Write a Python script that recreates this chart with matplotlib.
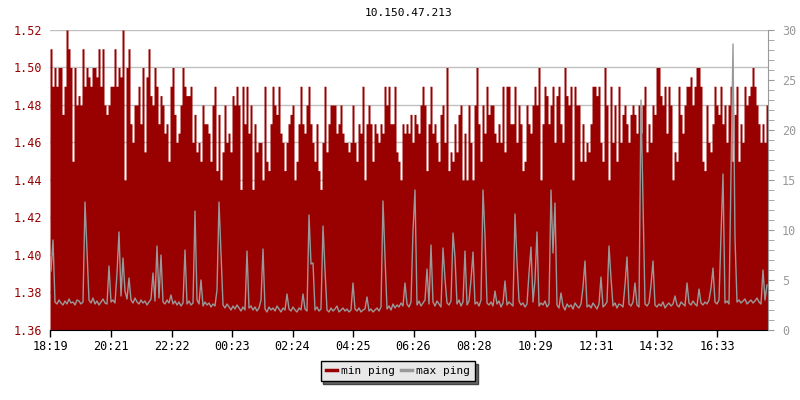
import numpy as np
import matplotlib
matplotlib.use("Agg")
import matplotlib.pyplot as plt
from matplotlib.lines import Line2D

plt.rcParams['font.family'] = ['DejaVu Sans Mono']
plt.rcParams['font.size'] = 8

title = "10.150.47.213"
tick_labels = ["18:19", "20:21", "22:22", "00:23", "02:24", "04:25",
               "06:26", "08:28", "10:29", "12:31", "14:32", "16:33"]
step_minutes = 4
span_minutes = 1436

# min ping (left axis), one sample every 4 minutes from 18:19
min_ping = [
    1.51, 1.49, 1.50, 1.49, 1.50, 1.50, 1.475, 1.49, 1.52, 1.51, 1.50, 1.45, 1.50, 1.48, 1.485, 1.48, 1.51, 1.49, 1.50, 1.495,
    1.49, 1.50, 1.50, 1.495, 1.51, 1.49, 1.51, 1.48, 1.475, 1.48, 1.49, 1.49, 1.51, 1.49, 1.50, 1.495, 1.52, 1.44, 1.50, 1.51,
    1.47, 1.46, 1.48, 1.48, 1.49, 1.47, 1.50, 1.455, 1.495, 1.51, 1.485, 1.48, 1.50, 1.49, 1.47, 1.485, 1.48, 1.465, 1.47, 1.45,
    1.49, 1.50, 1.475, 1.46, 1.465, 1.48, 1.50, 1.49, 1.485, 1.485, 1.49, 1.46, 1.475, 1.455, 1.46, 1.45, 1.48, 1.47, 1.47, 1.465,
    1.45, 1.48, 1.49, 1.445, 1.475, 1.44, 1.455, 1.48, 1.46, 1.465, 1.455, 1.485, 1.48, 1.49, 1.48, 1.435, 1.49, 1.47, 1.49, 1.465,
    1.48, 1.435, 1.47, 1.455, 1.46, 1.46, 1.44, 1.49, 1.45, 1.445, 1.47, 1.49, 1.48, 1.475, 1.49, 1.465, 1.46, 1.445, 1.46, 1.47,
    1.475, 1.48, 1.44, 1.45, 1.47, 1.49, 1.47, 1.465, 1.48, 1.49, 1.47, 1.46, 1.45, 1.47, 1.445, 1.435, 1.46, 1.49, 1.455, 1.47,
    1.48, 1.48, 1.48, 1.465, 1.47, 1.48, 1.465, 1.46, 1.46, 1.455, 1.46, 1.48, 1.46, 1.45, 1.47, 1.465, 1.49, 1.44, 1.47, 1.48,
    1.47, 1.45, 1.47, 1.465, 1.46, 1.47, 1.465, 1.49, 1.48, 1.49, 1.47, 1.47, 1.49, 1.455, 1.45, 1.44, 1.47, 1.465, 1.47, 1.465,
    1.475, 1.46, 1.475, 1.47, 1.465, 1.48, 1.49, 1.48, 1.445, 1.47, 1.49, 1.465, 1.47, 1.46, 1.45, 1.475, 1.48, 1.46, 1.50, 1.445,
    1.455, 1.45, 1.47, 1.455, 1.475, 1.48, 1.44, 1.465, 1.44, 1.48, 1.46, 1.44, 1.48, 1.50, 1.47, 1.45, 1.48, 1.465, 1.49, 1.475,
    1.48, 1.48, 1.465, 1.46, 1.47, 1.46, 1.49, 1.455, 1.49, 1.49, 1.47, 1.47, 1.49, 1.46, 1.48, 1.47, 1.445, 1.45, 1.48, 1.47,
    1.465, 1.48, 1.49, 1.48, 1.50, 1.44, 1.47, 1.49, 1.485, 1.47, 1.48, 1.49, 1.46, 1.485, 1.49, 1.47, 1.46, 1.50, 1.485, 1.48,
    1.49, 1.44, 1.49, 1.48, 1.48, 1.45, 1.47, 1.45, 1.46, 1.455, 1.47, 1.49, 1.49, 1.485, 1.49, 1.46, 1.45, 1.50, 1.48, 1.44,
    1.49, 1.46, 1.48, 1.45, 1.49, 1.46, 1.475, 1.48, 1.47, 1.46, 1.475, 1.48, 1.475, 1.465, 1.48, 1.465, 1.48, 1.49, 1.455, 1.47,
    1.46, 1.48, 1.475, 1.50, 1.50, 1.485, 1.48, 1.49, 1.465, 1.49, 1.48, 1.44, 1.455, 1.45, 1.49, 1.475, 1.465, 1.48, 1.49, 1.49,
    1.495, 1.48, 1.49, 1.50, 1.50, 1.49, 1.45, 1.445, 1.48, 1.46, 1.455, 1.47, 1.49, 1.48, 1.475, 1.49, 1.47, 1.48, 1.46, 1.48,
    1.49, 1.45, 1.475, 1.49, 1.45, 1.47, 1.46, 1.49, 1.48, 1.485, 1.49, 1.50, 1.49, 1.48, 1.47, 1.46, 1.47, 1.46, 1.48,
]

# max ping (right axis)
max_ping = [
    5.9, 9.0, 2.8, 2.6, 3.0, 2.7, 2.5, 2.9, 2.6, 3.1, 2.7, 2.8, 2.5, 3.0, 2.9, 2.6, 2.8, 12.8, 7.9, 3.0,
    2.7, 3.2, 2.6, 2.9, 2.5, 2.8, 3.1, 2.7, 2.6, 6.4, 2.8, 3.0, 2.7, 5.7, 9.8, 3.4, 7.2, 3.9, 3.1, 5.2,
    3.0, 2.7, 3.2, 2.8, 2.6, 3.0, 2.7, 2.9, 2.5, 2.8, 3.1, 5.7, 2.9, 8.4, 3.2, 7.5, 2.8, 2.6, 3.0, 2.7,
    3.5, 2.6, 2.9, 2.5, 2.8, 2.4, 2.7, 8.0, 2.6, 2.9, 2.5, 2.7, 11.9, 3.0, 2.6, 5.0, 2.4, 2.8, 2.5, 2.7,
    2.3, 2.6, 2.4, 4.0, 12.8, 7.7, 2.5, 2.2, 2.6, 2.3, 2.0, 2.4, 2.1, 2.5, 2.2, 1.9, 2.3, 2.0, 7.9, 2.2,
    2.4, 2.0, 2.3, 1.9, 2.2, 3.0, 8.1, 2.1, 1.8, 2.3, 2.0, 2.2, 1.9, 2.4, 2.1, 1.8, 2.2, 2.0, 3.6, 2.1,
    1.9, 2.3, 2.0, 1.8, 2.2, 2.0, 3.6, 2.1, 1.9, 11.5, 6.6, 6.7, 2.0, 2.3, 1.9, 2.1, 10.4, 6.0, 2.0, 1.8,
    2.2, 1.9, 2.1, 2.4, 1.8, 2.0, 2.2, 1.9, 2.1, 1.8, 2.0, 4.7, 2.1, 1.9, 2.2, 1.8, 2.0, 2.1, 3.3, 1.9,
    2.1, 1.8, 2.0, 2.2, 1.9, 2.3, 12.9, 7.3, 2.1, 2.4, 2.0, 2.6, 2.2, 2.5, 2.3, 2.7, 2.4, 4.7, 2.6, 2.3,
    2.8, 9.9, 14.0, 2.5, 2.9, 2.4, 2.7, 3.0, 6.1, 2.6, 8.5, 2.8, 2.4, 2.9, 2.6, 2.3, 8.2, 5.1, 2.7, 2.5,
    2.9, 9.7, 7.3, 2.6, 3.0, 2.4, 2.8, 7.9, 2.5, 2.9, 5.0, 7.8, 2.6, 2.8, 2.4, 3.0, 14.0, 9.4, 2.7, 2.5,
    2.8, 2.4, 3.9, 2.6, 2.9, 2.3, 2.7, 4.9, 2.5, 2.8, 2.6, 2.4, 11.6, 6.8, 2.9, 2.5, 2.7, 2.3, 2.6, 5.7,
    8.3, 2.8, 5.0, 9.8, 2.4, 2.7, 2.5, 2.9, 2.3, 2.6, 14.0, 7.7, 12.7, 2.5, 2.2, 3.7, 2.4, 2.0, 2.6, 2.3,
    2.5, 2.1, 2.7, 2.4, 2.2, 2.6, 4.3, 6.9, 2.3, 2.5, 2.2, 2.7, 2.4, 2.1, 2.6, 5.3, 2.3, 2.5, 2.8, 8.4,
    5.2, 2.4, 2.7, 2.2, 2.6, 2.5, 2.3, 4.5, 7.3, 2.6, 2.4, 2.8, 4.7, 2.5, 2.3, 23.0, 13.0, 2.6, 2.4, 2.7,
    4.5, 6.9, 2.5, 2.3, 2.6, 2.4, 2.8, 2.2, 2.5, 2.7, 2.4, 2.6, 3.4, 2.5, 2.3, 2.8, 2.6, 2.4, 4.7, 2.7,
    2.5, 2.9, 2.6, 2.4, 4.1, 2.7, 2.5, 2.8, 2.6, 3.0, 4.2, 6.2, 2.8, 2.6, 3.0, 9.5, 15.6, 2.7, 2.9, 2.6,
    15.8, 28.6, 9.2, 2.8, 3.0, 2.7, 2.9, 3.1, 2.6, 2.8, 3.0, 2.7, 2.9, 3.2, 2.8, 2.6, 6.0, 3.0, 4.5,
]

RED = '#990000'
GRAY = '#999999'

t_edges = np.arange(len(min_ping) + 1) * step_minutes
mins = np.append(min_ping, min_ping[-1])
t_mid = np.arange(len(max_ping)) * step_minutes + step_minutes / 2


def to_minutes(label):
    h, m = map(int, label.split(':'))
    return ((h * 60 + m) - (18 * 60 + 19)) % 1440


tick_pos = [to_minutes(s) for s in tick_labels]

fig = plt.figure(figsize=(8, 4), dpi=100)
ax = fig.add_axes([50 / 800, 70 / 400, 718 / 800, 300 / 400])

ax.fill_between(t_edges, mins, 1.36, step='post', color=RED, lw=0, zorder=2)
ax.set_ylim(1.36, 1.52)
ax.set_xlim(0, span_minutes)
ax.set_yticks(np.arange(1.36, 1.5201, 0.02))
ax.yaxis.set_major_formatter(plt.FormatStrFormatter('%.2f'))
ax.grid(axis='y', color='#c0c0c0', lw=1, zorder=0)
ax.set_axisbelow(True)
ax.tick_params(axis='y', length=0, colors=RED, labelsize=8.5, pad=6)
ax.set_xticks(tick_pos)
ax.set_xticklabels(tick_labels)
ax.tick_params(axis='x', length=5, width=1, colors='black', labelsize=8.5, pad=2)
for s in ['left', 'top', 'right']:
    ax.spines[s].set_visible(False)
ax.spines['bottom'].set_color('black')

ax2 = ax.twinx()
ax2.plot(t_mid, max_ping, color=GRAY, lw=1)
ax2.set_ylim(0, 30)
ax2.set_yticks(range(0, 31, 5))
ax2.set_yticks(range(0, 31), minor=True)
ax2.tick_params(axis='y', which='both', direction='out', length=4, colors=GRAY,
                labelsize=8.5, pad=6)
for s in ['left', 'top', 'bottom']:
    ax2.spines[s].set_visible(False)
ax2.spines['right'].set_color(GRAY)

fig.text(409 / 800, 1 - 13 / 400, title, ha='center', va='center', fontsize=8)

handles = [Line2D([], [], color=RED, lw=2.5), Line2D([], [], color=GRAY, lw=2.5)]
leg = fig.legend(handles, ['min ping', 'max ping'], loc='center',
                 bbox_to_anchor=(398 / 800, 1 - 371 / 400), ncol=2, fontsize=8,
                 handlelength=1.0, handletextpad=0.4, columnspacing=0.5,
                 borderpad=0.45, fancybox=False, frameon=True,
                 shadow={'facecolor': '#666666', 'alpha': 1})
leg.get_frame().set_facecolor('#e8e8e8')
leg.get_frame().set_edgecolor('black')
leg.get_frame().set_linewidth(1)
leg.get_frame().set_alpha(1)

fig.savefig('out.png', dpi=100)
